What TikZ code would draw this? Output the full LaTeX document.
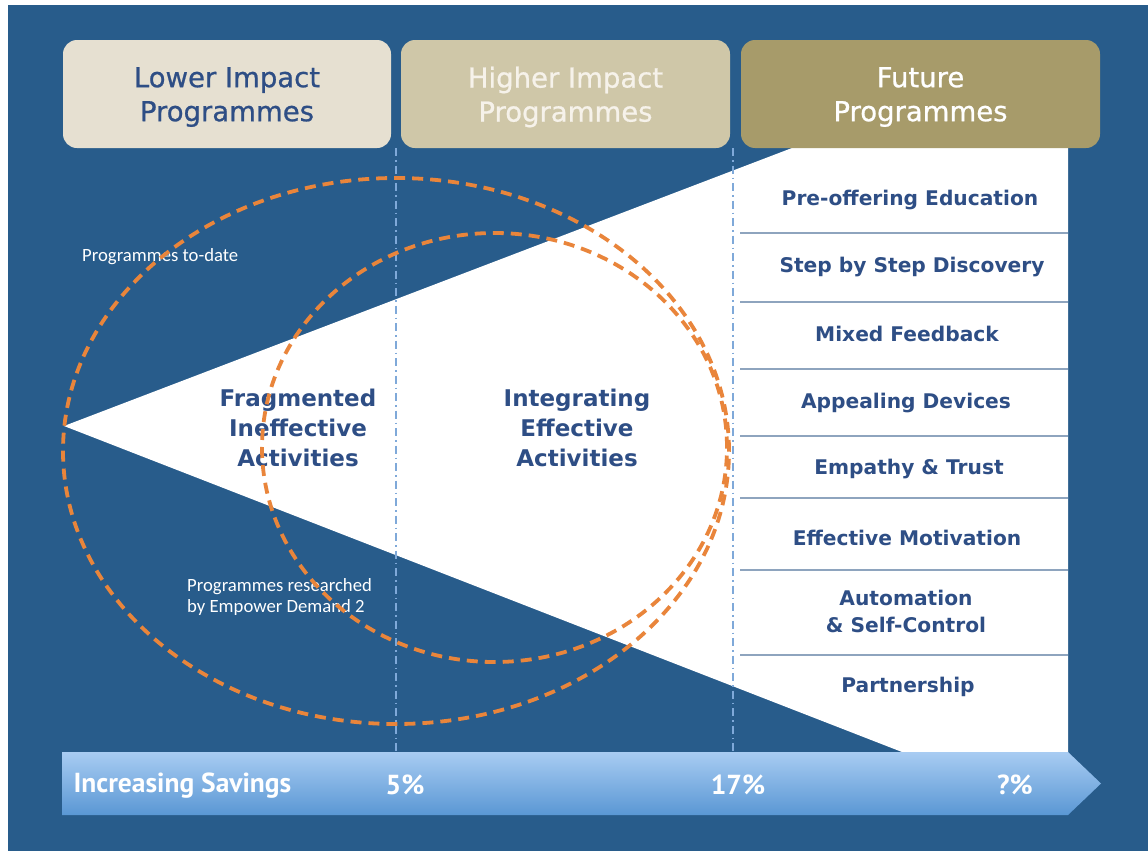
\documentclass[tikz,border=0pt]{standalone}
\usepackage{fontspec}
\setmainfont{DejaVu Sans}
\newfontfamily\headfont[FakeBold=0.8]{DejaVu Sans}
\newfontfamily\calib{Carlito}
\newfontfamily\ptsans{PT Sans}
\definecolor{bgblue}{HTML}{285C8B}
\definecolor{txtblue}{HTML}{2E4E85}
\definecolor{boxA}{HTML}{E6E0D1}
\definecolor{boxB}{HTML}{CFC7A8}
\definecolor{boxC}{HTML}{A79B6A}
\definecolor{dashorange}{HTML}{E9853B}
\definecolor{guideblue}{HTML}{7FA9D9}
\definecolor{sepline}{HTML}{8EA4BE}
\definecolor{barTop}{HTML}{A8CCF2}
\definecolor{barBot}{HTML}{5A97D4}
\definecolor{paletext}{HTML}{F6F2EA}
\tikzset{
  header/.style={rounded corners=14pt, minimum height=108pt, inner sep=0pt, align=center,
    font=\headfont\fontsize{27.5}{34}\selectfont},
  itemtext/.style={text=txtblue, align=center, font=\fontsize{20.2}{27}\selectfont\bfseries},
  midtext/.style={text=txtblue, align=center, font=\fontsize{23}{30}\selectfont\bfseries},
  smalltext/.style={text=white, align=left, font=\calib\fontsize{18.7}{21}\selectfont},
  bartext/.style={text=white, font=\ptsans\fontsize{27.5}{30}\selectfont\bfseries},
  guide/.style={guideblue, line width=2pt, dash pattern=on 8pt off 4pt on 1.5pt off 4pt},
  sep/.style={sepline, line width=1.6pt},
  orangering/.style={dashorange, line width=3.8pt, dash pattern=on 11pt off 7pt}
}
\begin{document}
\begin{tikzpicture}[x=1pt,y=-1pt]
\useasboundingbox (0,0) rectangle (1148,854);
\fill[white] (0,0) rectangle (1148,854);
\fill[bgblue] (8,5) rectangle (1148,851);
% white wedge and column
\fill[white] (64,426) -- (792,148) -- (1068,148) -- (1068,752) -- (902,752) -- cycle;
% guide lines
\coordinate (g1t) at (396,148); \coordinate (g1b) at (396,752);
\coordinate (g2t) at (733,148); \coordinate (g2b) at (733,752);
\draw[guide] (g1t) -- (g1b);
\draw[guide] (g2t) -- (g2b);
% separators
\foreach \yy in {233,302,369,436,498,570,655}{
  \draw[sep] (740,\yy) -- (1068,\yy);
}
% items
\node[itemtext] (i1) at (910,200) {Pre-offering Education};
\node[itemtext] (i2) at (912,267) {Step by Step Discovery};
\node[itemtext] (i3) at (907,334) {Mixed Feedback};
\node[itemtext] (i4) at (906,403) {Appealing Devices};
\node[itemtext] (i5) at (909,469) {Empathy \& Trust};
\node[itemtext] (i6) at (907,538) {Effective Motivation};
\node[itemtext] (i7) at (906,611) {Automation\\\& Self-Control};
\node[itemtext] (i8) at (908,687) {Partnership};
% mid labels
\node[midtext] (frag) at (298,428) {Fragmented\\Ineffective\\Activities};
\node[midtext] (integ) at (577,428) {Integrating\\Effective\\Activities};
% small labels
\node[smalltext, anchor=west, inner sep=0pt] (todate) at (82,257) {Programmes to-date};
\node[smalltext, anchor=west, inner sep=0pt] (researched) at (187,597) {Programmes researched\\by Empower Demand 2};
% rings
\draw[orangering] (396,451) ellipse [x radius=333pt, y radius=273pt];
\draw[orangering] (494.5,447.5) ellipse [x radius=232.5pt, y radius=214.5pt];
% headers
\node[header, fill=boxA, text=txtblue, minimum width=328pt, text depth=0pt] (lower) at (227,94) {};
\node[header, fill=boxB, text=paletext, minimum width=329pt] (higher) at (565.5,94) {};
\node[header, fill=boxC, text=white, minimum width=359pt] (future) at (920.5,94) {};
\node[header, text=txtblue, minimum height=0pt] (lowert) at (lower.center) [yshift=-3pt] {Lower Impact\\Programmes};
\node[header, text=paletext, minimum height=0pt] (highert) at (higher.center) [yshift=-3pt] {Higher Impact\\Programmes};
\node[header, text=white, minimum height=0pt] (futuret) at (future.center) [yshift=-3pt] {Future\\Programmes};
% savings bar
\shade[top color=barTop, bottom color=barBot] (62,752) -- (1068,752) -- (1101,783.5) -- (1068,815) -- (62,815) -- cycle;
\node[bartext, anchor=west] (inc) at (70,786) {Increasing Savings};
\node[bartext] (p5) at (405,785) {5\%};
\node[bartext] (p17) at (738,785) {17\%};
\node[bartext] (pq) at (1015,785) {?\%};
\end{tikzpicture}
\end{document}
